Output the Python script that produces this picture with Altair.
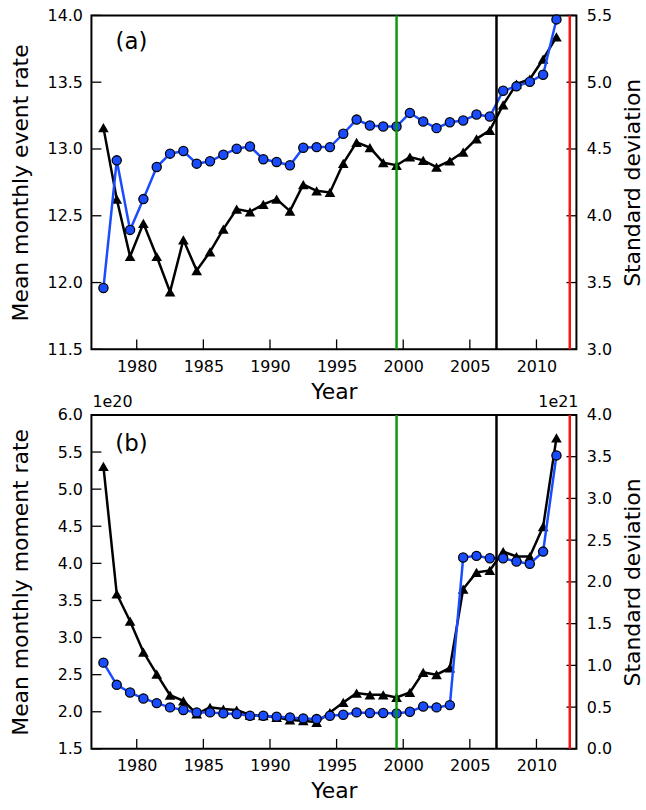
import altair as alt
import pandas as pd

# ---------------- data ----------------
years = [1977.5 + i for i in range(35)]

# panel (a): mean monthly event rate (left axis, black triangles)
a_mean = [13.16, 12.625, 12.195, 12.443, 12.195, 11.93, 12.32, 12.09, 12.23, 12.40,
          12.55, 12.53, 12.585, 12.625, 12.535, 12.734, 12.687, 12.675, 12.893, 13.05,
          13.01, 12.898, 12.878, 12.94, 12.915, 12.865, 12.91, 12.977, 13.076, 13.139,
          13.33, 13.486, 13.523, 13.672, 13.84]
# panel (a): standard deviation (right axis, blue circles)
a_std = [3.459, 4.415, 3.894, 4.125, 4.365, 4.465, 4.485, 4.39, 4.408, 4.457,
         4.502, 4.519, 4.423, 4.403, 4.378, 4.509, 4.514, 4.514, 4.614, 4.72,
         4.676, 4.668, 4.668, 4.77, 4.706, 4.656, 4.70, 4.713, 4.758, 4.743,
         4.936, 4.969, 5.003, 5.056, 5.47]

# panel (b): mean monthly moment rate (x 1e20, left axis)
b_mean = [5.307, 3.587, 3.221, 2.805, 2.506, 2.224, 2.148, 1.97, 2.059, 2.037,
          2.023, 1.956, 1.947, 1.925, 1.889, 1.88, 1.858, 1.99, 2.126, 2.251,
          2.229, 2.229, 2.193, 2.26, 2.53, 2.50, 2.59, 3.654, 3.878, 3.905,
          4.159, 4.092, 4.092, 4.494, 5.69]
# panel (b): standard deviation (x 1e21, right axis)
b_std = [1.033, 0.767, 0.675, 0.604, 0.548, 0.497, 0.465, 0.437, 0.437, 0.425,
         0.417, 0.397, 0.397, 0.385, 0.377, 0.365, 0.357, 0.397, 0.409, 0.437,
         0.429, 0.429, 0.425, 0.445, 0.508, 0.497, 0.524, 2.292, 2.312, 2.284,
         2.284, 2.244, 2.216, 2.363, 3.515]

x_ticks = [1980, 1985, 1990, 1995, 2000, 2005, 2010]
a_left_ticks = [11.5, 12.0, 12.5, 13.0, 13.5, 14.0]
a_right_ticks = [3.0, 3.5, 4.0, 4.5, 5.0, 5.5]
b_left_ticks = [1.5, 2.0, 2.5, 3.0, 3.5, 4.0, 4.5, 5.0, 5.5, 6.0]
b_right_ticks = [0.0, 0.5, 1.0, 1.5, 2.0, 2.5, 3.0, 3.5, 4.0]

vline_years = [1999.5, 2007.0, 2012.5]
vline_colors = ["#0a9a0a", "black", "#ff1010"]
vline_widths = [2.5, 2.5, 2.5]

W, H = 488, 336
BLUE = "#1a4cff"
FONT = "DejaVu Sans"
X_DOMAIN = [1976.6, 2013.0]


def xenc():
    return alt.X("year:Q",
                 scale=alt.Scale(domain=X_DOMAIN, nice=False, zero=False),
                 axis=alt.Axis(values=x_ticks, format="d", title="Year",
                               tickSize=0, labelPadding=9, domain=False, grid=False,
                               titlePadding=7))


def panel(mean, std, left_dom, right_dom, lticks, rticks, ltitle, tag, tag_pos,
          off_left=None, off_right=None):
    left_axis = alt.Axis(values=lticks, format=".1f", title=ltitle, tickSize=0,
                         labelPadding=9, domain=False, grid=False,
                         titleX=-59, titleY=H / 2)
    right_axis = alt.Axis(values=rticks, format=".1f", title="Standard deviation",
                          orient="right", tickSize=0, labelPadding=10, domain=False,
                          grid=False, titlePadding=11, titleAngle=270,
                          titleBaseline="top")

    def yl():
        return alt.Y("v:Q", scale=alt.Scale(domain=left_dom, nice=False, zero=False),
                     axis=left_axis)

    def yr():
        return alt.Y("v:Q", scale=alt.Scale(domain=right_dom, nice=False, zero=False),
                     axis=right_axis)

    dl = pd.DataFrame({"year": years, "v": mean})
    dr = pd.DataFrame({"year": years, "v": std})

    left_line = alt.Chart(dl).mark_line(color="black", strokeWidth=2.5).encode(x=xenc(), y=yl())
    left_pts = alt.Chart(dl).mark_point(shape="triangle-up", filled=True, color="black",
                                        size=115, opacity=1).encode(x=xenc(), y=yl())
    left_tk = alt.Chart(pd.DataFrame({"v": lticks})).mark_rule(
        color="black", strokeWidth=1.3).encode(y=yl(), x=alt.value(0), x2=alt.value(10))
    tag_df = pd.DataFrame({"year": [tag_pos[0]], "v": [tag_pos[1]], "t": [tag]})
    tag_txt = alt.Chart(tag_df).mark_text(fontSize=23, font=FONT, color="black").encode(
        x=xenc(), y=yl(), text="t:N")
    left_layers = [left_line, left_pts, left_tk, tag_txt]
    if off_left:
        left_layers.append(
            alt.Chart(pd.DataFrame({"t": [off_left]})).mark_text(
                align="left", baseline="bottom", fontSize=16, font=FONT, color="black"
            ).encode(x=alt.value(1), y=alt.value(-5), text="t:N"))
    left_group = alt.layer(*left_layers)

    right_line = alt.Chart(dr).mark_line(color=BLUE, strokeWidth=2.5).encode(x=xenc(), y=yr())
    right_pts = alt.Chart(dr).mark_point(shape="circle", filled=True, fill=BLUE,
                                         stroke="black", strokeWidth=1.3, size=85,
                                         opacity=1).encode(x=xenc(), y=yr())
    right_tk = alt.Chart(pd.DataFrame({"v": rticks})).mark_rule(
        color="black", strokeWidth=1.3).encode(y=yr(), x=alt.value(W - 10), x2=alt.value(W))
    right_layers = [right_line, right_pts, right_tk]
    if off_right:
        right_layers.append(
            alt.Chart(pd.DataFrame({"t": [off_right]})).mark_text(
                align="right", baseline="bottom", fontSize=16, font=FONT, color="black"
            ).encode(x=alt.value(W + 2), y=alt.value(-5), text="t:N"))
    right_group = alt.layer(*right_layers)

    xt = alt.Chart(pd.DataFrame({"year": x_ticks})).mark_rule(
        color="black", strokeWidth=1.3).encode(x=xenc(), y=alt.value(H), y2=alt.value(H - 10))

    vdf = pd.DataFrame({"year": vline_years, "c": vline_colors, "w": vline_widths})
    vlines = alt.Chart(vdf).mark_rule().encode(
        x=xenc(), color=alt.Color("c:N", scale=None),
        strokeWidth=alt.StrokeWidth("w:Q", scale=None))

    return alt.layer(left_group, right_group, xt, vlines).resolve_scale(
        y="independent").properties(width=W, height=H)


top = panel(a_mean, a_std, [11.5, 14.0], [3.0, 5.5], a_left_ticks, a_right_ticks,
            "Mean monthly event rate", "(a)", (1979.6, 13.80))
bottom = panel(b_mean, b_std, [1.5, 6.0], [0.0, 4.0], b_left_ticks, b_right_ticks,
               "Mean monthly moment rate", "(b)", (1979.6, 5.61),
               off_left="1e20", off_right="1e21")

chart = alt.vconcat(top, bottom, spacing=66, bounds="flush").properties(
    padding={"left": 9, "top": 4, "right": 1, "bottom": 4}
).configure_view(
    stroke="black", strokeWidth=2
).configure_axis(
    labelFont=FONT, titleFont=FONT, labelFontSize=16, titleFontSize=22,
    titleFontWeight="normal", labelColor="black", titleColor="black"
)

chart.save("out.html", embed_options={"renderer": "svg", "actions": False})
